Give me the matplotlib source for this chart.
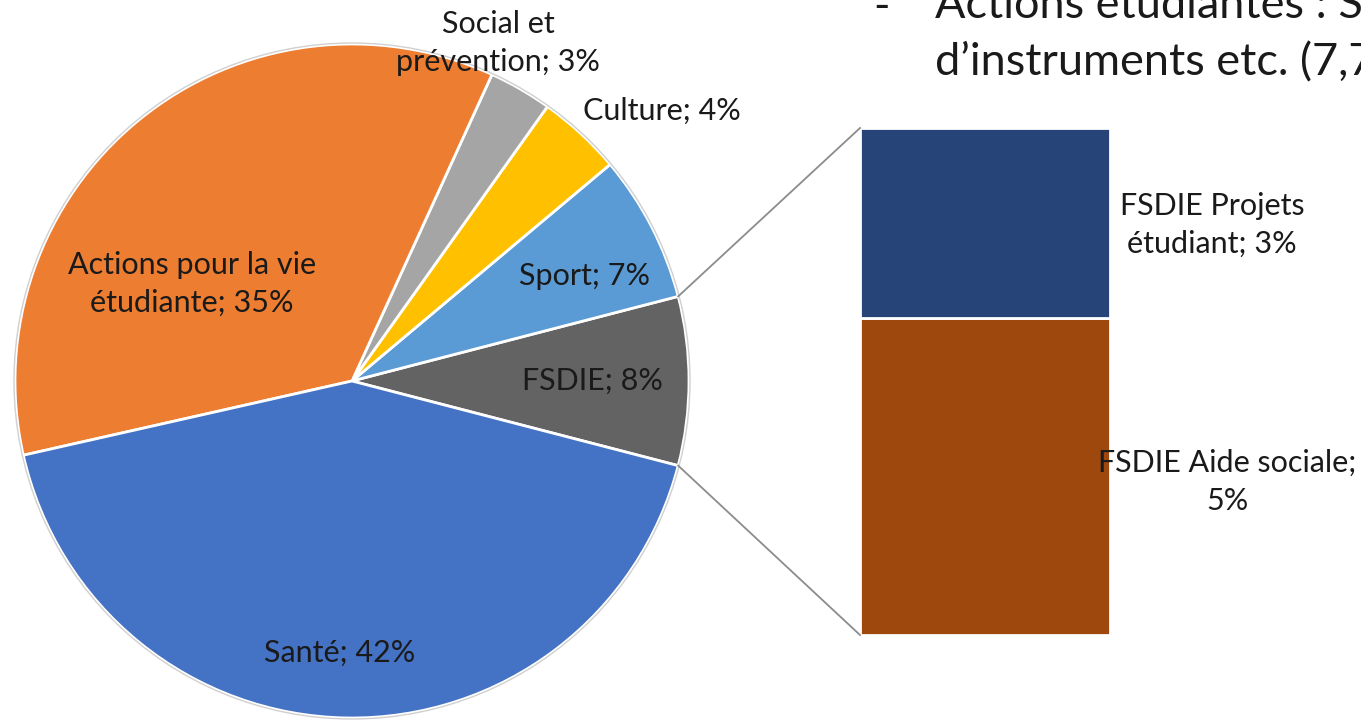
import numpy as np
import matplotlib
matplotlib.use("Agg")
import matplotlib.pyplot as plt

plt.rcParams['font.family'] = ['Lato', 'DejaVu Sans']

W, H = 1361, 721

# pie data, counter-clockwise from the FSDIE slice (which sits at 3 o'clock)
pie_names = ["FSDIE", "Sport", "Culture", "Social et\nprévention",
             "Actions pour la vie\nétudiante", "Santé"]
pie_values = [8, 7, 4, 3, 35, 42]
pie_colors = ["#636363", "#5B9BD5", "#FFC000", "#A5A5A5", "#ED7D31", "#4472C4"]
pie_text = ["FSDIE; 8%", "Sport; 7%", "Culture; 4%", "Social et\nprévention; 3%",
            "Actions pour la vie\nétudiante; 35%", "Santé; 42%"]
# label centres in pixels (x, y from top)
pie_text_pos = [(592, 381), (585, 276), (662, 111), (498, 43), (192, 284), (340, 653)]

# breakdown of the FSDIE slice (bottom to top)
bar_names = ["FSDIE Aide sociale", "FSDIE Projets étudiant"]
bar_values = [5, 3]
bar_colors = ["#9E480E", "#264478"]
bar_text = ["FSDIE Aide sociale;\n5%", "FSDIE Projets\nétudiant; 3%"]
bar_text_pos = [(1227, 482), (1212, 225)]

header_lines = ["Actions étudiantes : Se", "d\u2019instruments etc. (7,7"]

fig = plt.figure(figsize=(W / 100, H / 100), dpi=100)
ax = fig.add_axes([0, 0, 1, 1])

cx, cy, r = 352, H - 381, 337
start = -pie_values[0] / sum(pie_values) * 180
wedges, _ = ax.pie(pie_values, colors=pie_colors, startangle=start,
                   counterclock=True, center=(cx, cy), radius=r,
                   wedgeprops=dict(edgecolor='white', linewidth=2))
ax.add_patch(plt.Circle((cx, cy), r + 1, fill=False, edgecolor='#d0d0d0', lw=1))

# stacked bar
bar_x, bar_w = 985, 250
bar_bottom = H - 635
scale = 507 / sum(bar_values)
bottom = bar_bottom
for v, c in zip(bar_values, bar_colors):
    ax.bar(bar_x, v * scale, width=bar_w, bottom=bottom, color=c,
           edgecolor='white', linewidth=2)
    bottom += v * scale
bar_top = bottom

# connector lines from FSDIE slice to the bar
w0 = wedges[0]
t1, t2 = np.deg2rad(w0.theta1), np.deg2rad(w0.theta2)
left = bar_x - bar_w / 2
ax.plot([cx + r * np.cos(t2), left], [cy + r * np.sin(t2), bar_top], color='#8c8c8c', lw=1.3)
ax.plot([cx + r * np.cos(t1), left], [cy + r * np.sin(t1), bar_bottom], color='#8c8c8c', lw=1.3)

for txt, (x, y) in zip(pie_text, pie_text_pos):
    ax.text(x, H - y, txt, ha='center', va='center', fontsize=22,
            color='#1a1a1a', linespacing=1.45)
for txt, (x, y) in zip(bar_text, bar_text_pos):
    ax.text(x, H - y, txt, ha='center', va='center', fontsize=22,
            color='#1a1a1a', linespacing=1.45)

# slide text behind the chart, cut off by the frame
ax.text(873, H - 20, "-", fontsize=32, va='baseline', ha='left', color='#1a1a1a')
ax.text(935, H - 18, header_lines[0], fontsize=32.5, va='baseline', ha='left', color='#1a1a1a')
ax.text(935, H - 75, header_lines[1], fontsize=32.5, va='baseline', ha='left', color='#1a1a1a')

ax.set_xlim(0, W)
ax.set_ylim(0, H)
ax.set_aspect('auto')
ax.axis('off')

fig.savefig("out.png", dpi=100)
